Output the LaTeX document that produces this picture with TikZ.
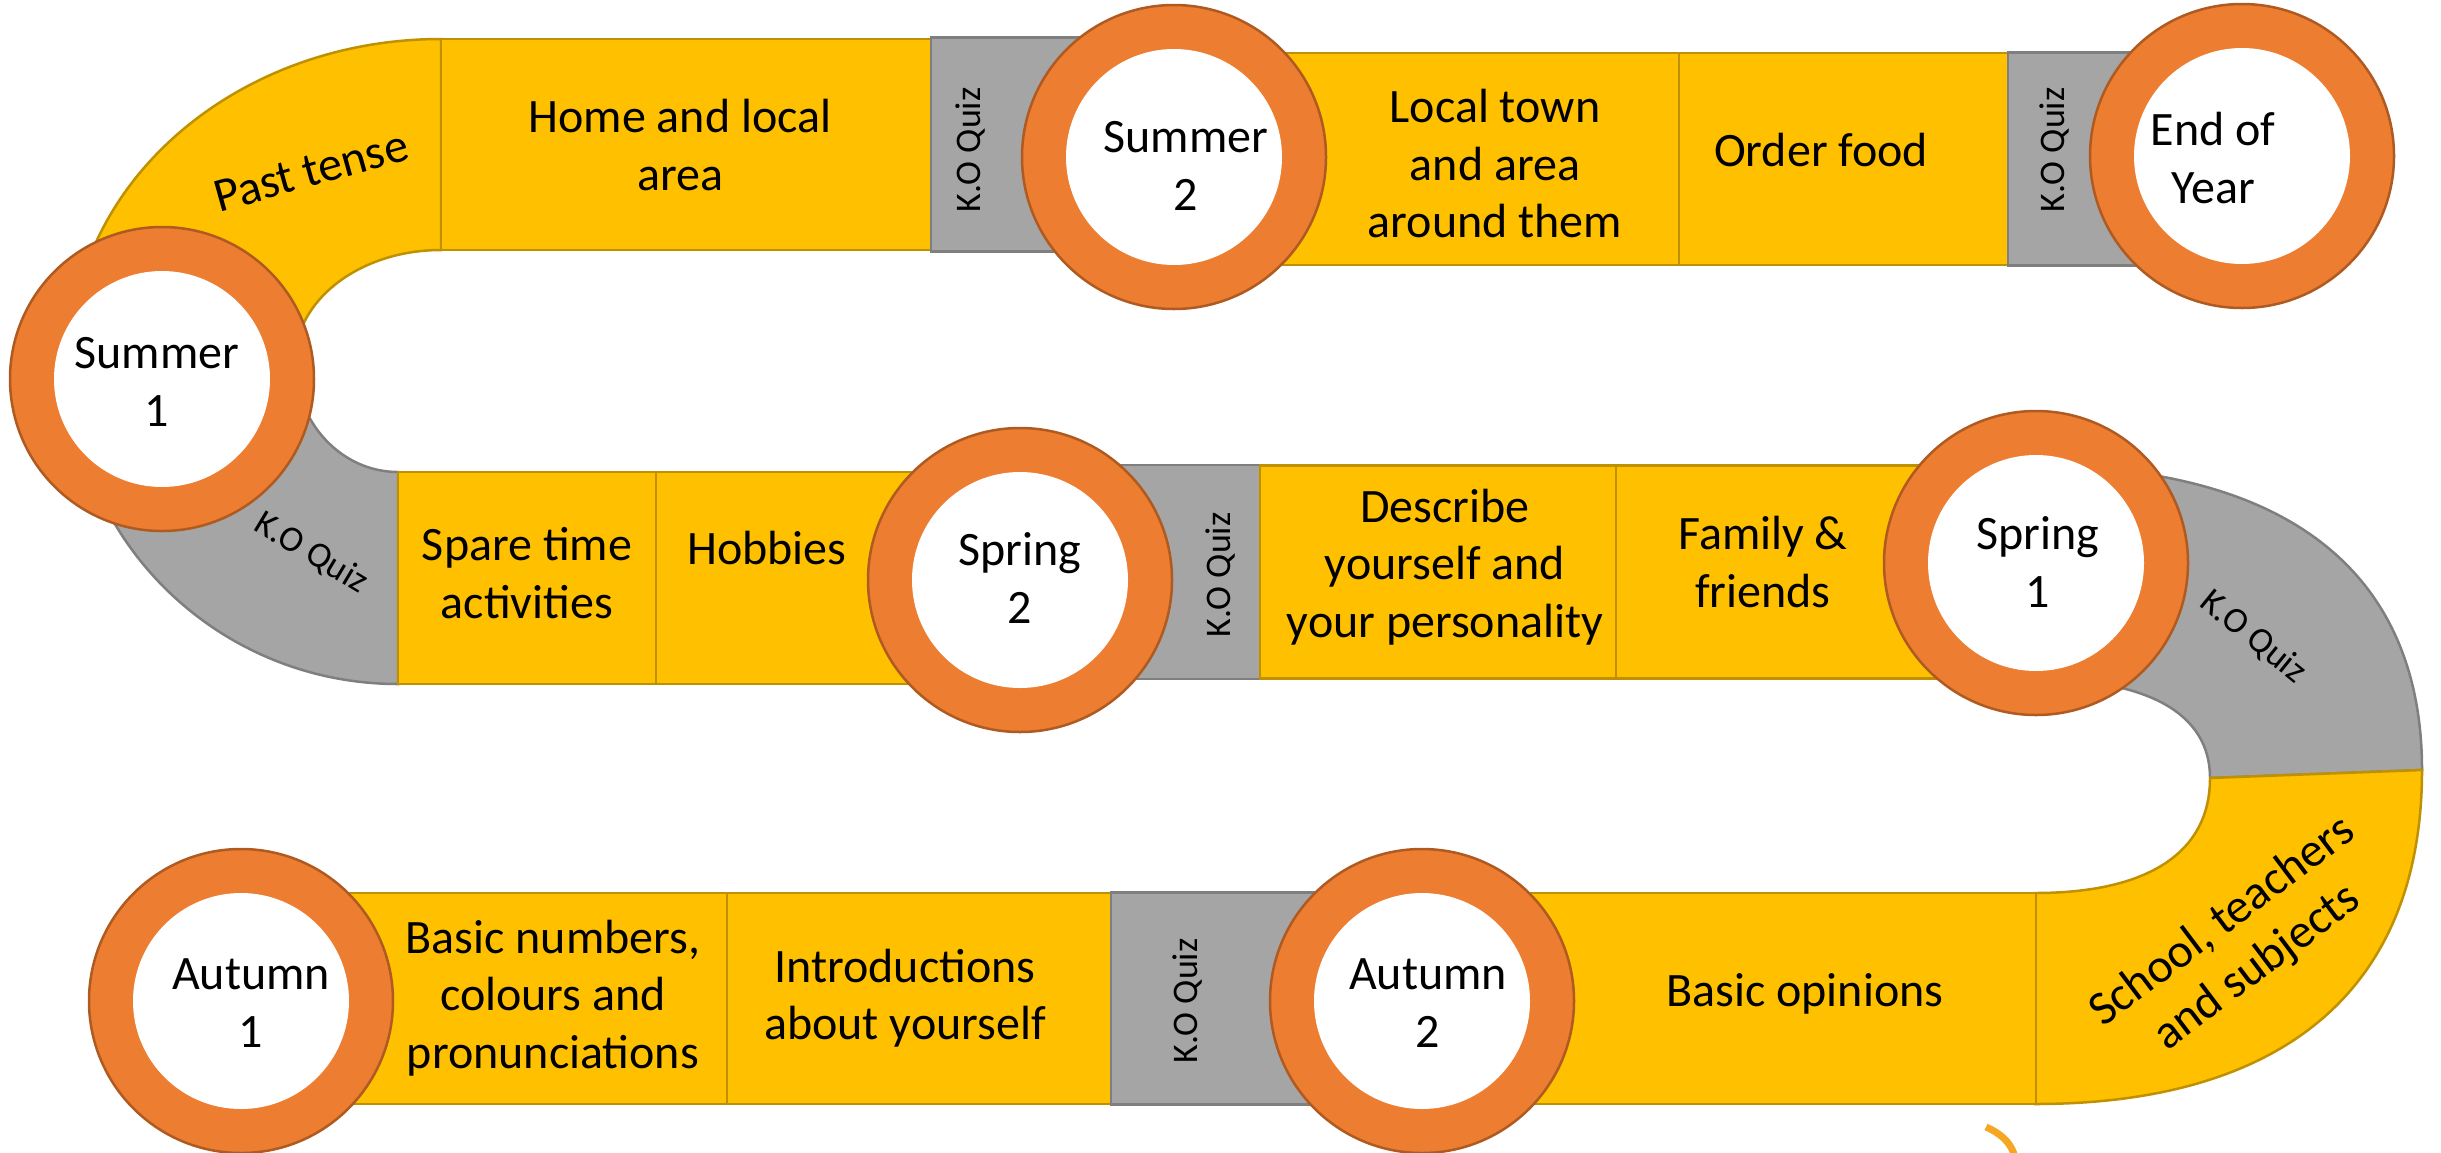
\documentclass[tikz,border=0pt]{standalone}
\usepackage{fontspec}
\setmainfont{Carlito}
\usetikzlibrary{positioning}
\definecolor{tileyellow}{HTML}{FFC000}
\definecolor{tileedge}{HTML}{BF9000}
\definecolor{quizgray}{HTML}{A5A5A5}
\definecolor{quizedge}{HTML}{7F7F7F}
\definecolor{ringorange}{HTML}{ED7D31}
\definecolor{ringedge}{HTML}{AE5A21}
\definecolor{logoorange}{HTML}{F5A623}
\newcommand{\tilefont}{\fontsize{48}{57.5}\selectfont}
\newcommand{\quizfont}{\fontsize{36}{43}\selectfont}

\begin{document}
\begin{tikzpicture}[x=1pt,y=-1pt,
  tile/.style={draw=tileedge,fill=tileyellow,line width=2.5,minimum height=211,inner sep=0,outer sep=0},
  tiletext/.style={font=\tilefont,align=center,inner sep=0},
  quiz/.style={draw=quizedge,fill=quizgray,line width=2.5,minimum height=214,inner sep=0,outer sep=0},
  quizlabel/.style={font=\quizfont,inner sep=0},
  ring/.style={circle,draw=ringedge,fill=ringorange,line width=2.5,minimum size=304,inner sep=0},
  hole/.style={circle,fill=white,minimum size=216,inner sep=0},
  yband/.style={draw=tileedge,fill=tileyellow,line width=2.5},
  gband/.style={draw=quizedge,fill=quizgray,line width=2.5}]
  \useasboundingbox (0,0) rectangle (2441,1152);

  \draw[yband] (441,39) .. controls (236,39) and (70,183) .. (70,361) -- (295,361) .. controls (295,300) and (360,250) .. (441,250) -- cycle;
  \draw[gband] (70,361) .. controls (70,539) and (217,684) .. (398,684) -- (398,472) .. controls (341,472) and (295,422) .. (295,361) -- cycle;
  \draw[gband] (2035,466) .. controls (2287,466) and (2422,572) .. (2422,770) -- (2210,778) .. controls (2210,714) and (2149,679) .. (2035,679) -- cycle;
  \draw[yband] (2422,770) .. controls (2422,986) and (2287,1104) .. (2035,1104) -- (2035,893) .. controls (2149,893) and (2210,852) .. (2210,778) -- cycle;

  \node[tiletext,rotate=15.6] (past) at (311,171) {Past tense};
  \node[quizlabel,rotate=-31] (quizLtext) at (311,553) {K.O Quiz};
  \node[quizlabel,rotate=-39] (quizRtext) at (2253,637) {K.O Quiz};
  \node[tiletext,rotate=37] (school) at (2240,945) {School, teachers\\and subjects};

  \node[tile,minimum width=490] (home) at (686,144.5) {};
  \node[quiz,minimum width=169,right=0pt of home] (quizA) {};
  \node[tile,minimum width=414,minimum height=212] (town) at (1472,159) {};
  \node[tile,minimum width=329,minimum height=212,right=0pt of town] (food) {};
  \node[quiz,minimum width=192,minimum height=213,right=0pt of food] (quizB) {};

  \node[tile,minimum width=258,minimum height=212] (spare) at (527,578) {};
  \node[tile,minimum width=264,minimum height=212,right=0pt of spare] (hobbies) {};
  \node[quiz,minimum width=145] (quizC) at (1187.5,572) {};
  \node[tile,minimum width=356,minimum height=213,right=0pt of quizC] (describe) {};
  \node[tile,minimum width=329,minimum height=213,right=0pt of describe] (family) {};

  \node[tile,minimum width=382] (numbers) at (536,998.5) {};
  \node[tile,minimum width=384,right=0pt of numbers] (intro) {};
  \node[quiz,minimum width=209,minimum height=212,right=0pt of intro] (quizD) {};
  \node[tile,minimum width=508] (opinions) at (1782,998.5) {};

  \node[tiletext] (homeText) at (680,145) {Home and local\\area};
  \node[quizlabel,rotate=90] (quizAtext) at (970,150) {K.O Quiz};
  \node[tiletext] (townText) at (1495,164) {Local town\\and area\\around them};
  \node[tiletext] (foodText) at (1821,150) {Order food};
  \node[quizlabel,rotate=90] (quizBtext) at (2054,150) {K.O Quiz};
  \node[tiletext] (spareText) at (527,573) {Spare time\\activities};
  \node[tiletext] (hobbiesText) at (767,548) {Hobbies};
  \node[quizlabel,rotate=90] (quizCtext) at (1220,575) {K.O Quiz};
  \node[tiletext] (describeText) at (1445,567) {Describe\\yourself and\\your personality};
  \node[tiletext] (familyText) at (1763,562) {Family \&\\friends};
  \node[tiletext] (numbersText) at (553,998) {Basic numbers,\\colours and\\pronunciations};
  \node[tiletext] (introText) at (905,998) {Introductions\\about yourself};
  \node[quizlabel,rotate=90] (quizDtext) at (1187,1001) {K.O Quiz};
  \node[tiletext] (opinionsText) at (1805,994) {Basic opinions};

  \node[ring] (summerA) at (162,379) {};
  \node[hole] (summerAin) at (summerA) {};
  \node[tiletext] (summerAText) at (157,382) {Summer\\1};
  \node[ring] (summerB) at (1174,157) {};
  \node[hole] (summerBin) at (summerB) {};
  \node[tiletext] (summerBText) at (1186,166) {Summer\\2};
  \node[ring] (yearend) at (2242,156) {};
  \node[hole] (yearendin) at (yearend) {};
  \node[tiletext] (yearendText) at (2213,158) {End of\\Year};
  \node[ring] (springB) at (1020,580) {};
  \node[hole] (springBin) at (springB) {};
  \node[tiletext] (springBText) at (1020,578) {Spring\\2};
  \node[ring] (springA) at (2036,563) {};
  \node[hole] (springAin) at (springA) {};
  \node[tiletext] (springAText) at (2038,562) {Spring\\1};
  \node[ring] (autumnA) at (241,1001) {};
  \node[hole] (autumnAin) at (autumnA) {};
  \node[tiletext] (autumnAText) at (251,1003) {Autumn\\1};
  \node[ring] (autumnB) at (1422,1001) {};
  \node[hole] (autumnBin) at (autumnB) {};
  \node[tiletext] (autumnBText) at (1428,1003) {Autumn\\2};

  \draw[logoorange,line width=7] (1986,1127) .. controls (2000,1133) and (2010,1142) .. (2014,1154);
\end{tikzpicture}
\end{document}
